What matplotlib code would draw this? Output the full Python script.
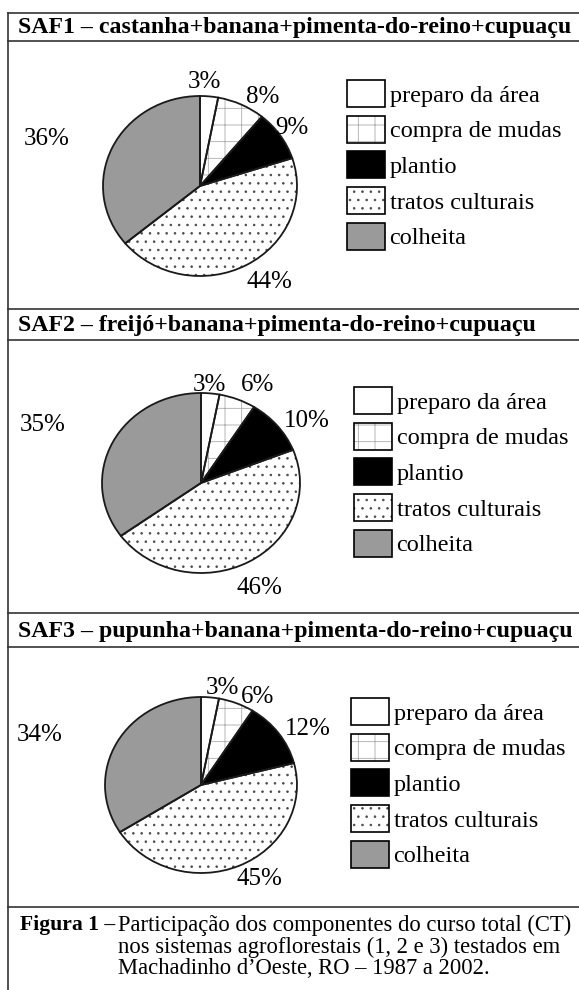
# three pie charts of the components of total cost in agroforestry systems (SAF1-3)

import numpy as np
import matplotlib.pyplot as plt
from matplotlib.lines import Line2D
from matplotlib.patches import Patch
from matplotlib.legend_handler import HandlerTuple

plt.rcParams['font.family'] = ['Liberation Serif', 'DejaVu Serif']
plt.rcParams['hatch.linewidth'] = 0.6

# data
categories = ["preparo da área", "compra de mudas", "plantio", "tratos culturais", "colheita"]
saf1 = [3, 8, 9, 44, 36]
saf2 = [3, 6, 10, 46, 35]
saf3 = [3, 6, 12, 45, 34]
titles = [
    "SAF1 – castanha+banana+pimenta-do-reino+cupuaçu",
    "SAF2 – freijó+banana+pimenta-do-reino+cupuaçu",
    "SAF3 – pupunha+banana+pimenta-do-reino+cupuaçu",
]
caption_head = "Figura 1 –"
caption_lines = [
    "Participação dos componentes do curso total (CT)",
    "nos sistemas agroflorestais (1, 2 e 3) testados em",
    "Machadinho d’Oeste, RO – 1987 a 2002.",
]

# styles
face = ["white", "white", "black", "white", "#9a9a9a"]
hatch = [None, "+", None, "..", None]
hatch_col = ["white", "#ababab", "black", "#4a4a4a", "#9a9a9a"]

W, H = 579, 990
fig = plt.figure(figsize=(W / 100, H / 100), dpi=100)


def fx(px):
    return px / W


def fy(py):
    return 1 - py / H


# panel layout in pixels: pie centre/radii, legend corner, title y, label placement
panels = [
    dict(vals=saf1, cx=200, cy=186, rx=97, ry=90, leg=(347, 80), ty=28,
         dist=[1.16, 1.18, 1.15, 1.29, 1.66], nudge=[3, -8, 0, 5, 7]),
    dict(vals=saf2, cx=201, cy=483, rx=99, ry=90, leg=(354, 387), ty=325,
         dist=[1.09, 1.23, 1.27, 1.31, 1.73], nudge=[1, -6, -7, -2, 5]),
    dict(vals=saf3, cx=201, cy=785, rx=96, ry=88, leg=(351, 698), ty=631,
         dist=[1.12, 1.16, 1.28, 1.23, 1.77], nudge=[-6, -9, -6, 6, 10]),
]

for i, p in enumerate(panels):
    ax = fig.add_axes([fx(p["cx"] - p["rx"]), fy(p["cy"] + p["ry"]),
                       2 * p["rx"] / W, 2 * p["ry"] / H])
    wedges, _ = ax.pie(p["vals"], colors=face, startangle=90, counterclock=False,
                       wedgeprops=dict(linewidth=0))
    for w, h, hc in zip(wedges, hatch, hatch_col):
        w.set_edgecolor(hc)
        if h:
            w.set_hatch(h)
    # black outlines on top
    ax.pie(p["vals"], startangle=90, counterclock=False,
           wedgeprops=dict(fill=False, edgecolor="#1a1a1a", linewidth=1.3))
    ax.set_aspect("auto")
    ax.set_xlim(-1, 1)
    ax.set_ylim(-1, 1)
    ax.axis("off")

    # percentage labels
    for w, v, d, n in zip(wedges, p["vals"], p["dist"], p["nudge"]):
        ang = np.deg2rad((w.theta1 + w.theta2) / 2 + n)
        ax.text(d * np.cos(ang), d * np.sin(ang), f"{v}%", ha="center", va="center",
                fontsize=18, clip_on=False)

    handles = [(Patch(facecolor=c, edgecolor=hc, hatch=h, linewidth=0),
                Patch(fill=False, edgecolor="black", linewidth=1.2))
               for c, h, hc in zip(face, hatch, hatch_col)]
    fig.legend(handles, categories, handler_map={tuple: HandlerTuple(ndivide=1)},
               loc="upper left", bbox_to_anchor=(fx(p["leg"][0]), fy(p["leg"][1])),
               frameon=False, borderpad=0, borderaxespad=0, fontsize=17.5,
               handlelength=1.55, handleheight=1.33, labelspacing=0.36,
               handletextpad=0.2)

    fig.text(fx(18), fy(p["ty"]), titles[i], fontsize=17.2, fontweight="bold",
             ha="left", va="center")

# frame lines
for y in [13, 41, 309, 340, 613, 647, 907]:
    fig.add_artist(Line2D([fx(8), 1], [fy(y), fy(y)], color="#333333", linewidth=1.2))
fig.add_artist(Line2D([fx(8), fx(8)], [fy(13), 0], color="#333333", linewidth=1.2))

# caption
fig.text(fx(20), fy(925), caption_head, fontsize=15.6, fontweight="bold", ha="left", va="center")
for k, line in enumerate(caption_lines):
    fig.text(fx(118), fy(925 + 22 * k), line, fontsize=16.3, ha="left", va="center")

fig.savefig("out.png", dpi=100)
